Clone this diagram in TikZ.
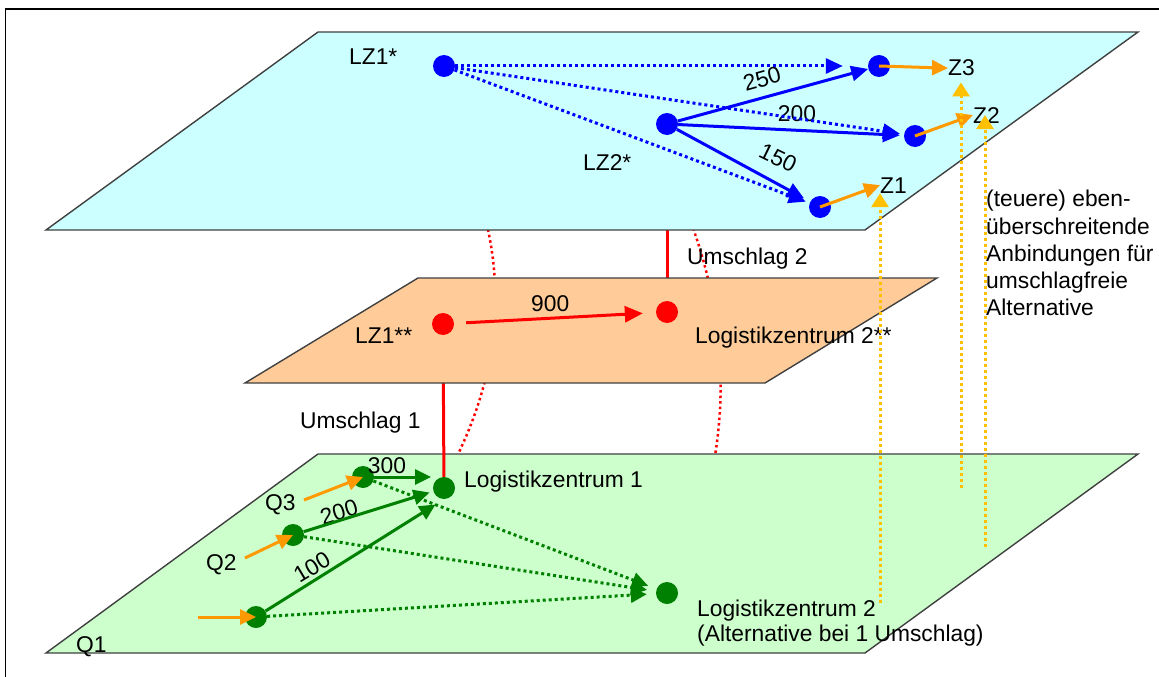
\documentclass[tikz,border=0pt]{standalone}
\usepackage{fontspec}
\setmainfont{Liberation Sans}
\usetikzlibrary{arrows.meta}
\pgfdeclarelayer{lzero}
\pgfdeclarelayer{lone}
\pgfdeclarelayer{ltwo}
\pgfdeclarelayer{lthree}
\pgfdeclarelayer{lfour}
\pgfsetlayers{lzero,lone,ltwo,lthree,lfour,main}
\definecolor{planeC}{HTML}{CCFFFF}
\definecolor{planeO}{HTML}{FFCC99}
\definecolor{planeG}{HTML}{CCFFCC}
\definecolor{cblue}{HTML}{0000FF}
\definecolor{cred}{HTML}{FF0000}
\definecolor{cgreen}{HTML}{008000}
\definecolor{corange}{HTML}{FF9900}
\definecolor{cgold}{HTML}{FFC000}
\definecolor{edgegray}{HTML}{404040}
\begin{document}
\begin{tikzpicture}[x=1pt,y=-1pt,
  font=\fontsize{22.8}{27.3}\selectfont,
  dot/.style={circle,inner sep=0pt,minimum size=22pt,fill=#1},
  lab/.style={inner sep=0pt,anchor=base west},
  num/.style={inner sep=0pt},
  plane/.style={draw=edgegray,line width=1.4pt,line join=miter,fill=#1},
  bsolid/.style={cblue,line width=3pt,-{Triangle[length=17pt,width=15pt]}},
  bdot/.style={cblue,line width=3pt,dash pattern=on 3pt off 3pt,-{Triangle[length=17pt,width=15pt]}},
  gsolid/.style={cgreen,line width=3pt,-{Triangle[length=16pt,width=15pt]}},
  gdotted/.style={cgreen,line width=3pt,dash pattern=on 3pt off 3pt,-{Triangle[length=16pt,width=15pt]}},
  rsolid/.style={cred,line width=3pt,-{Triangle[length=18pt,width=16pt]}},
  rline/.style={cred,line width=3pt},
  rdotted/.style={cred,line width=2.5pt,dash pattern=on 2.5pt off 3pt},
  oarrow/.style={corange,line width=3pt,-{Triangle[length=16pt,width=15pt]}},
  golddot/.style={cgold,line width=3pt,dash pattern=on 3pt off 3pt,-{Triangle[length=14pt,width=17pt]}}
]
\useasboundingbox (0,0) rectangle (1159,677);
\draw[black,line width=1.5pt] (5.5,677) -- (5.5,9) -- (1159,9);

% dots
\node[dot=cblue] (LZ1s) at (444,66) {};
\node[dot=cblue] (LZ2s) at (667,124) {};
\node[dot=cblue] (Z3) at (879,66) {};
\node[dot=cblue] (Z2) at (915,136) {};
\node[dot=cblue] (Z1) at (820,207) {};
\node[dot=cred] (LZ1ss) at (443,324) {};
\node[dot=cred] (LZ2ss) at (667,312) {};
\node[dot=cgreen] (Q1) at (256,617) {};
\node[dot=cgreen] (Q2) at (293,535) {};
\node[dot=cgreen] (Q3) at (363,477) {};
\node[dot=cgreen] (LZ1g) at (444,488) {};
\node[dot=cgreen] (LZ2g) at (667,593) {};

% planes and hidden links
\begin{pgfonlayer}{lzero}
\coordinate (rc1a) at (412,66);
\coordinate (rc1b) at (440,488);
\coordinate (rc2a) at (644,124);
\coordinate (rc2b) at (672,593);
\draw[rdotted] (rc1a) .. controls (513,207) and (522,348) .. (rc1b);
\draw[rdotted] (rc2a) .. controls (736,280) and (745,437) .. (rc2b);
\end{pgfonlayer}
\begin{pgfonlayer}{lone}
\path[plane=planeG] (318,454) -- (1138,454) -- (865,653) -- (46,653) -- cycle;
\end{pgfonlayer}
\begin{pgfonlayer}{ltwo}
\draw[rline] (LZ1g) -- (LZ1ss);
\draw[rline] (LZ2ss) -- (LZ2s);
\end{pgfonlayer}
\begin{pgfonlayer}{lthree}
\path[plane=planeO] (418,278) -- (937,278) -- (765,383) -- (245,383) -- cycle;
\end{pgfonlayer}
\begin{pgfonlayer}{lfour}
\path[plane=planeC] (318,32) -- (1138,32) -- (865,230) -- (46,230) -- cycle;
\end{pgfonlayer}

% labels
\node[lab] (tLZ1s) at (349,64) {LZ1*};
\node[lab] (tLZ2s) at (583,170) {LZ2*};
\node[lab] (tZ3) at (948,76) {Z3};
\node[lab] (tZ2) at (973,123) {Z2};
\node[lab] (tZ1) at (880,193) {Z1};
\node[lab] (tU2) at (687,264) {Umschlag 2};
\node[lab] (tLZ1ss) at (355,343) {LZ1**};
\node[lab] (tLZ2ss) at (695,343) {Logistikzentrum 2**};
\node[lab] (t900) at (531,311) {900};
\node[lab] (tU1) at (300,428) {Umschlag 1};
\node[lab] (tLZ1g) at (464,487) {Logistikzentrum 1};
\node[lab] (tQ3) at (265,510) {Q3};
\node[lab] (tQ2) at (206,570) {Q2};
\node[lab] (tQ1) at (76,652) {Q1};
\node[lab] (tLZ2g) at (697,616) {Logistikzentrum 2};
\node[lab] (tAlt) at (697,641) {(Alternative bei 1 Umschlag)};
\node[inner sep=0pt,anchor=north west,align=left] (tNote) at (986,190)
  {(teuere) eben-\\überschreitende\\Anbindungen für\\umschlagfreie\\Alternative};

% numbers
\node[num,rotate=15.6] (n250) at (762,79) {250};
\node[num] (n200t) at (797,114) {200};
\node[num,rotate=-26] (n150) at (778,158) {150};
\node[num] (n300) at (387,466) {300};
\node[num,rotate=17] (n200b) at (339,512) {200};
\node[num,rotate=31] (n100) at (312,567) {100};

% top plane connectors
\draw[bdot,shorten >=25pt] (LZ1s) -- (Z3);
\draw[bdot,shorten >=4pt] (LZ1s) -- (Z2);
\draw[bdot,shorten >=4pt] (LZ1s) -- (Z1);
\draw[bsolid] (LZ2s) -- (Z3);
\draw[bsolid,shorten >=4pt] (LZ2s) -- (Z2);
\draw[bsolid,shorten >=7pt] (LZ2s) -- (Z1);
\draw[oarrow] (Z3.center) -- (tZ3.west);
\draw[oarrow] (Z2.center) -- (tZ2.west);
\draw[oarrow] (Z1.center) -- (tZ1.west);

% middle plane
\draw[rsolid,shorten <=12pt,shorten >=13pt] (LZ1ss) -- (LZ2ss);

% bottom plane
\draw[gsolid,shorten >=13pt] (Q3) -- (Q3 -| LZ1g);
\draw[gsolid,shorten >=4pt] (Q2) -- (LZ1g);
\draw[gsolid,shorten >=10pt] (Q1) -- (LZ1g.270);
\draw[gdotted,shorten >=9pt] (Q3) -- (LZ2g);
\draw[gdotted,shorten >=9pt] (Q2) -- (LZ2g);
\draw[gdotted,shorten >=9pt] (Q1) -- (LZ2g);
\coordinate (q1in) at (198,617);
\coordinate (q2in) at (245,558);
\coordinate (q3in) at (304,500);
\draw[oarrow] (q1in) -- (Q1.center);
\draw[oarrow] (q2in) -- (Q2.center);
\draw[oarrow] (q3in) -- (Q3.center);

% gold vertical links
\coordinate (g1) at (880,603);
\coordinate (g2) at (961,488);
\coordinate (g3) at (985,547);
\draw[golddot] (g1) -- (g1 |- tZ1.south);
\draw[golddot,shorten >=6pt] (g2) -- (g2 |- tZ3.south);
\draw[golddot] (g3) -- (g3 |- tZ2.center);
\end{tikzpicture}
\end{document}
